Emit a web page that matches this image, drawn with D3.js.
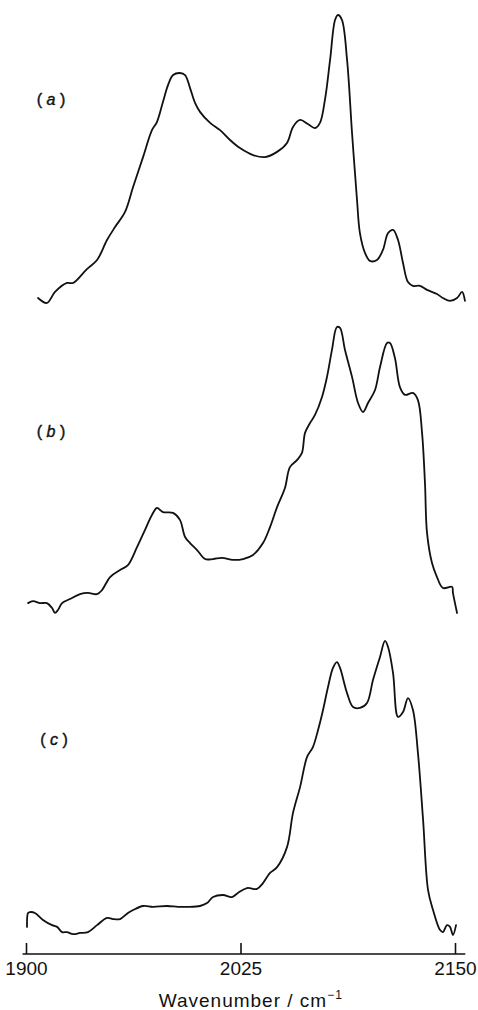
<!DOCTYPE html>
<html>
<head>
<meta charset="utf-8">
<script src="https://cdn.jsdelivr.net/npm/d3@7"></script>
<style>
  html, body { margin: 0; padding: 0; background: #fff; }
  svg { display: block; }
</style>
</head>
<body>
<svg id="chart" width="478" height="1010"></svg>
<script>
// ---- data: wavenumber (cm-1) and relative absorbance ----
const panelLabels = ["a", "b", "c"];
const tickValues = [1900, 2025, 2150];
const axisTitle = "Wavenumber / cm";

const wavenumberA = [1907.0,1912.2,1916.9,1923.9,1927.4,1935.5,1941.4,1947.2,1951.9,1957.7,1962.4,1968.2,1973.4,1976.3,1979.8,1982.8,1985.7,1989.7,1992.7,1995.6,1998.5,2001.4,2007.3,2013.1,2018.9,2024.7,2032.3,2039.3,2046.3,2052.1,2055.6,2059.7,2064.3,2068.4,2071.3,2074.2,2077.2,2080.1,2081.8,2084.1,2087.1,2090.0,2092.9,2094.6,2097.6,2100.5,2104.5,2108.0,2111.0,2113.9,2116.8,2119.7,2122.6,2125.5,2129.6,2133.7,2139.5,2143.0,2147.1,2151.2,2154.1,2155.8];
const absorbanceA = [0.024,0.007,0.045,0.076,0.076,0.124,0.155,0.224,0.269,0.321,0.407,0.510,0.603,0.631,0.700,0.759,0.793,0.800,0.793,0.748,0.697,0.666,0.628,0.603,0.569,0.541,0.517,0.510,0.528,0.559,0.614,0.638,0.624,0.610,0.628,0.707,0.845,0.983,1.000,0.983,0.845,0.593,0.362,0.248,0.179,0.152,0.155,0.190,0.248,0.259,0.224,0.145,0.079,0.066,0.066,0.052,0.038,0.024,0.014,0.024,0.045,0.014];

const wavenumberB = [1901.2,1904.1,1908.2,1912.2,1915.2,1916.9,1918.6,1921.0,1925.6,1931.5,1936.1,1941.4,1944.3,1949.0,1954.8,1959.4,1964.7,1969.3,1973.4,1976.3,1979.8,1985.7,1989.7,1992.7,1995.6,1999.7,2004.3,2009.0,2014.2,2020.6,2026.5,2032.3,2038.1,2042.2,2046.3,2050.9,2053.8,2057.9,2060.8,2062.6,2065.5,2068.4,2072.5,2075.4,2078.3,2081.2,2083.0,2085.9,2090.0,2093.5,2096.4,2099.3,2103.4,2106.3,2110.4,2112.1,2115.0,2117.9,2120.9,2125.5,2128.4,2130.8,2132.5,2133.7,2136.6,2139.5,2143.0,2148.3,2148.8,2151.2];
const absorbanceB = [0.041,0.048,0.041,0.041,0.024,0.007,0.017,0.041,0.055,0.072,0.076,0.072,0.086,0.131,0.155,0.172,0.234,0.293,0.345,0.369,0.355,0.352,0.328,0.269,0.248,0.224,0.193,0.193,0.197,0.190,0.193,0.207,0.248,0.303,0.372,0.438,0.510,0.534,0.559,0.628,0.662,0.690,0.752,0.821,0.914,0.993,0.990,0.914,0.821,0.731,0.700,0.731,0.776,0.855,0.938,0.938,0.886,0.786,0.759,0.766,0.741,0.628,0.455,0.283,0.179,0.131,0.093,0.097,0.076,0.007];

const wavenumberC = [1900.6,1901.2,1902.3,1905.2,1909.9,1915.2,1918.1,1921.0,1923.9,1927.4,1931.5,1936.1,1941.4,1947.2,1950.7,1954.8,1959.4,1962.4,1968.2,1974.0,1982.2,1988.6,1993.8,2001.4,2005.5,2009.0,2014.8,2020.0,2023.5,2028.8,2034.6,2038.1,2042.2,2046.3,2052.1,2055.6,2059.7,2063.8,2067.2,2070.2,2073.1,2076.0,2078.9,2081.2,2083.0,2087.1,2090.6,2094.6,2098.7,2102.2,2106.3,2109.2,2111.0,2113.9,2116.8,2119.7,2122.6,2125.5,2128.4,2131.4,2134.3,2137.2,2141.3,2143.0,2145.3,2147.1,2148.8,2150.6];
const absorbanceC = [0.028,0.076,0.079,0.076,0.052,0.034,0.028,0.010,0.010,0.003,0.007,0.010,0.034,0.059,0.055,0.055,0.076,0.086,0.100,0.097,0.100,0.097,0.097,0.100,0.110,0.131,0.138,0.131,0.145,0.162,0.159,0.179,0.214,0.234,0.303,0.421,0.510,0.614,0.648,0.707,0.776,0.855,0.921,0.941,0.921,0.834,0.786,0.783,0.800,0.879,0.959,1.014,0.993,0.903,0.752,0.769,0.817,0.776,0.628,0.397,0.155,0.086,0.017,0.010,0.034,0.028,0.000,0.034];

// ---- layout ----
const svg = d3.select("#chart");
const x = d3.scaleLinear().domain([1900, 2150]).range([26, 455]);
const panelBase = [305, 615, 935];
const panelHeight = 290;
const series = [
  {label: panelLabels[0], w: wavenumberA, a: absorbanceA, labelY: 99, labelX: 51},
  {label: panelLabels[1], w: wavenumberB, a: absorbanceB, labelY: 431, labelX: 51},
  {label: panelLabels[2], w: wavenumberC, a: absorbanceC, labelY: 739, labelX: 54}
];

series.forEach((s, i) => {
  const y = d3.scaleLinear().domain([0, 1]).range([panelBase[i], panelBase[i] - panelHeight]);
  const pts = s.w.map((w, j) => [w, s.a[j]]);
  const line = d3.line()
    .x(d => x(d[0]))
    .y(d => y(d[1]))
    .curve(d3.curveCatmullRom.alpha(0.5));
  svg.append("path")
    .attr("d", line(pts))
    .attr("fill", "none")
    .attr("stroke", "#111")
    .attr("stroke-width", 1.8)
    .attr("stroke-linejoin", "round")
    .attr("stroke-linecap", "round");

  const t = svg.append("text")
    .attr("x", s.labelX)
    .attr("y", s.labelY)
    .attr("dy", "0.35em")
    .attr("text-anchor", "middle")
    .attr("font-family", "'Liberation Sans', Arial, sans-serif")
    .attr("font-size", 16)
    .attr("stroke", "#111")
    .attr("stroke-width", 0.4)
    .attr("fill", "#111");
  t.append("tspan").text("( ");
  t.append("tspan").attr("font-style", "italic").text(s.label);
  t.append("tspan").text(" )");
});

// ---- axis ----
const axisY = 954;
const axisG = svg.append("g").attr("transform", `translate(0,${axisY})`);
axisG.call(d3.axisBottom(x).tickValues(tickValues).tickSizeInner(-11).tickSizeOuter(0).tickPadding(8).tickFormat(d3.format("d")));
axisG.select(".domain").remove();
axisG.append("line")
  .attr("x1", x(1898)).attr("x2", x(2156))
  .attr("stroke", "#111").attr("stroke-width", 1.6);
axisG.selectAll(".tick line").attr("stroke", "#111").attr("stroke-width", 1.6);
axisG.selectAll(".tick text")
  .attr("font-family", "'Liberation Sans', Arial, sans-serif")
  .attr("font-size", 19)
  .attr("fill", "#111");

const title = svg.append("text")
  .attr("x", x(2031))
  .attr("y", 1007)
  .attr("text-anchor", "middle")
  .attr("font-family", "'Liberation Sans', Arial, sans-serif")
  .attr("font-size", 19)
  .attr("letter-spacing", 1)
  .attr("fill", "#111");
title.append("tspan").text(axisTitle);
title.append("tspan").attr("font-size", 12).attr("dy", -8).text("−1");
</script>
</body>
</html>
